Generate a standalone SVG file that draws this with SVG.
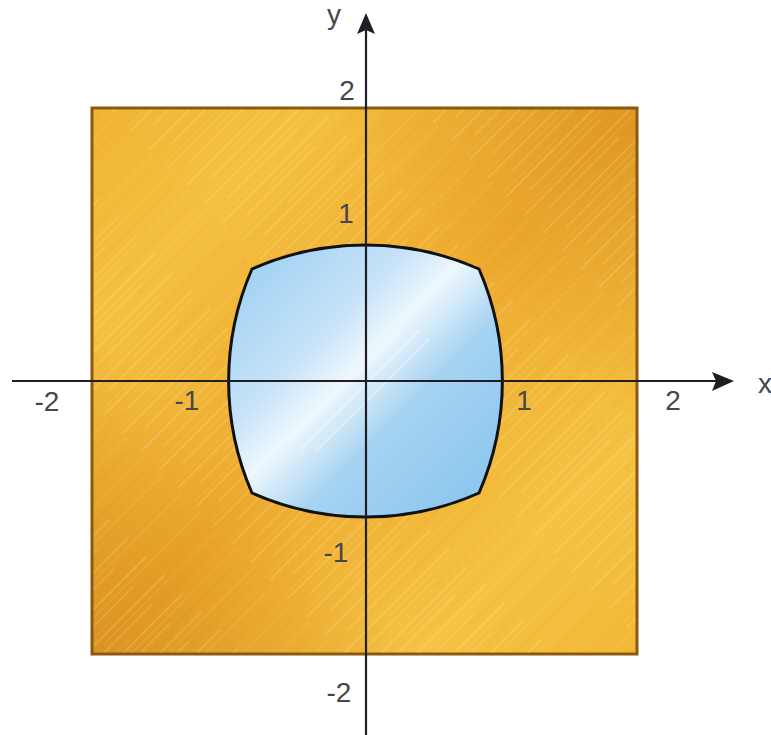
<svg xmlns="http://www.w3.org/2000/svg" width="771" height="735" viewBox="0 0 771 735">
  <defs>
    <style>
      .lbl { font-family: "Liberation Sans", Arial, sans-serif; font-size: 28px; fill: #474747; text-anchor: middle; }
      .axis { stroke: #1e1e24; stroke-width: 2.2; fill: none; }
      .head { fill: #1e1e24; }
    </style>
    <linearGradient id="goldA" x1="0" y1="0" x2="1" y2="1">
      <stop offset="0" stop-color="#f1b433"/>
      <stop offset="0.2" stop-color="#f5c040"/>
      <stop offset="0.5" stop-color="#edaa2e"/>
      <stop offset="0.8" stop-color="#f5c242"/>
      <stop offset="1" stop-color="#f2b837"/>
    </linearGradient>
    <linearGradient id="goldB" x1="0" y1="1" x2="1" y2="0">
      <stop offset="0" stop-color="#c97a10" stop-opacity="0.5"/>
      <stop offset="0.3" stop-color="#c97a10" stop-opacity="0"/>
      <stop offset="0.7" stop-color="#c97a10" stop-opacity="0"/>
      <stop offset="1" stop-color="#c97a10" stop-opacity="0.4"/>
    </linearGradient>
    <pattern id="streaks" width="220" height="26" patternUnits="userSpaceOnUse" patternTransform="rotate(-45)">
      <line x1="0" y1="3" x2="150" y2="3" stroke="#fff6d0" stroke-opacity="0.22" stroke-width="1.4"/>
      <line x1="60" y1="9" x2="220" y2="9" stroke="#fff6d0" stroke-opacity="0.15" stroke-width="1"/>
      <line x1="20" y1="15" x2="120" y2="15" stroke="#fff6d0" stroke-opacity="0.2" stroke-width="1.6"/>
      <line x1="110" y1="20" x2="210" y2="20" stroke="#b06a08" stroke-opacity="0.12" stroke-width="1"/>
      <line x1="0" y1="24" x2="80" y2="24" stroke="#fff6d0" stroke-opacity="0.12" stroke-width="1"/>
    </pattern>
    <linearGradient id="blue" x1="252" y1="269" x2="479" y2="493" gradientUnits="userSpaceOnUse">
      <stop offset="0" stop-color="#a2d2f3"/>
      <stop offset="0.3" stop-color="#c6e3f8"/>
      <stop offset="0.45" stop-color="#eef7fd"/>
      <stop offset="0.52" stop-color="#d6ebf9"/>
      <stop offset="0.65" stop-color="#a6d3f2"/>
      <stop offset="1" stop-color="#8cc6ee"/>
    </linearGradient>
  </defs>

  <rect width="771" height="735" fill="#ffffff"/>

  <g id="square">
    <rect x="92" y="108" width="545" height="546" fill="url(#goldA)"/>
    <rect x="92" y="108" width="545" height="546" fill="url(#goldB)"/>
    <rect x="92" y="108" width="545" height="546" fill="url(#streaks)"/>
    <rect x="92" y="108" width="545" height="546" fill="none" stroke="#8a5a12" stroke-width="3"/>
  </g>

  <g id="lens">
    <path d="M252,269 A280,280 0 0 1 479,269 A280,280 0 0 1 479,493 A280,280 0 0 1 252,493 A280,280 0 0 1 252,269 Z" fill="url(#blue)" stroke="#111" stroke-width="3" stroke-linejoin="miter"/>
    <path d="M300,450 L420,330 M315,452 L430,338 M290,440 L400,330" stroke="#ffffff" stroke-opacity="0.35" stroke-width="2" fill="none"/>
  </g>

  <g id="axes">
    <line class="axis" x1="12" y1="381" x2="718" y2="381"/>
    <polygon class="head" points="734,381 712,372 716,381 712,391"/>
    <line class="axis" x1="366" y1="735" x2="366" y2="30"/>
    <polygon class="head" points="366,13 357,34 366,30 375,34"/>
  </g>

  <g id="labels">
    <text class="lbl" x="334" y="24" font-size="24">y</text>
    <text class="lbl" x="765" y="393" font-size="24">x</text>
    <text class="lbl" x="347" y="100">2</text>
    <text class="lbl" x="346" y="223">1</text>
    <text class="lbl" x="47" y="411">-2</text>
    <text class="lbl" x="187" y="410">-1</text>
    <text class="lbl" x="524" y="410">1</text>
    <text class="lbl" x="673" y="410">2</text>
    <text class="lbl" x="336" y="562">-1</text>
    <text class="lbl" x="339" y="702">-2</text>
  </g>
</svg>
